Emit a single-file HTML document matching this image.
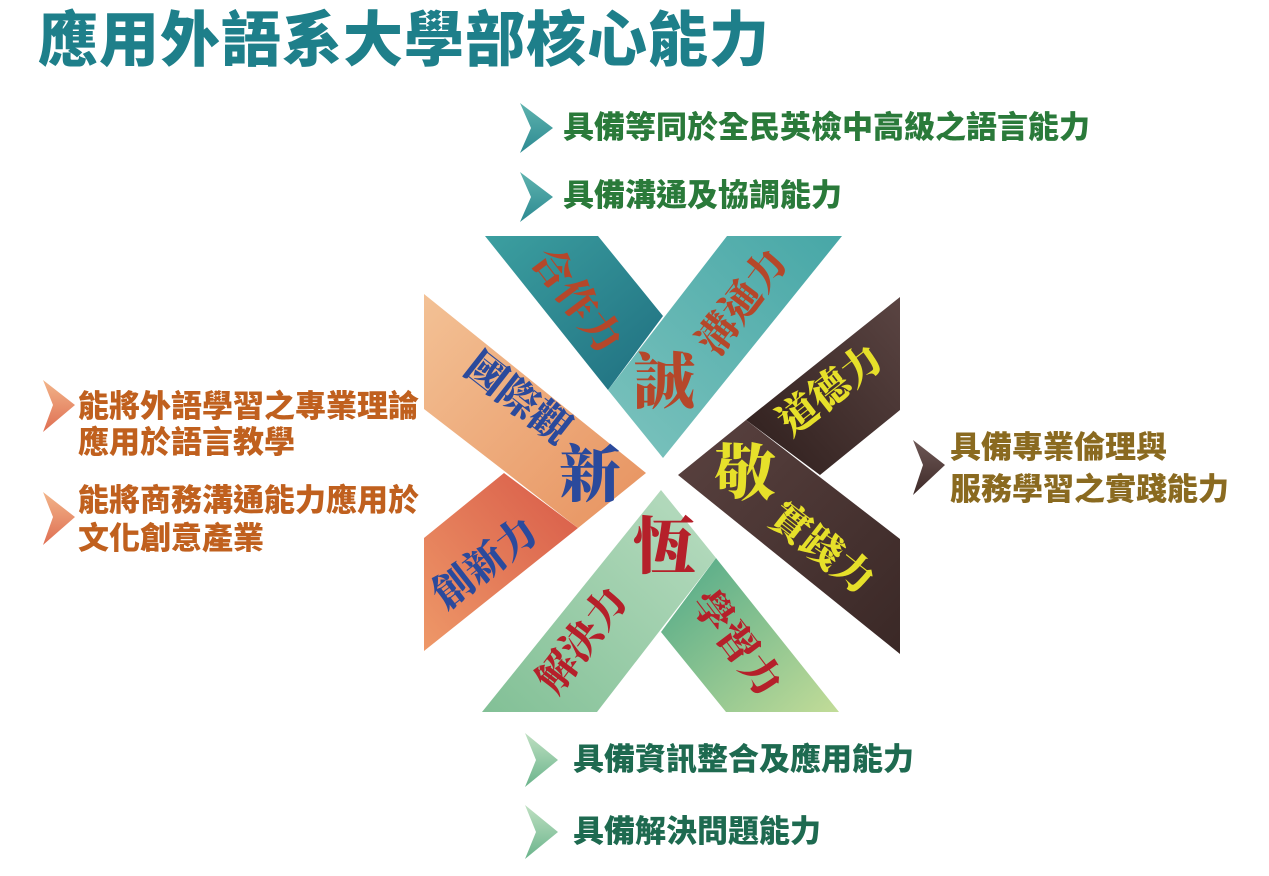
<!DOCTYPE html>
<html><head><meta charset="utf-8">
<style>
html,body{margin:0;padding:0;background:#fff;}
#wrap{position:relative;width:1269px;height:876px;overflow:hidden;background:#fff;}
.t{position:absolute;white-space:nowrap;font-family:"Liberation Sans","Noto Sans CJK TC",sans-serif;font-weight:900;font-size:31px;line-height:36px;}
</style></head>
<body>
<div id="wrap">
<svg width="1269" height="876" style="position:absolute;left:0;top:0">
<defs>
<linearGradient id="gDT" x1="0" y1="0" x2="1" y2="1"><stop offset="0" stop-color="#3c9fa0"/><stop offset="1" stop-color="#1f6f80"/></linearGradient>
<linearGradient id="gLT" x1="1" y1="0" x2="0" y2="1"><stop offset="0" stop-color="#47a7a7"/><stop offset="1" stop-color="#7cc3bd"/></linearGradient>
<linearGradient id="gPe" x1="0" y1="0" x2="1" y2="1"><stop offset="0" stop-color="#f3c195"/><stop offset="1" stop-color="#e7925f"/></linearGradient>
<linearGradient id="gRd" x1="1" y1="0" x2="0" y2="1"><stop offset="0" stop-color="#d85a48"/><stop offset="1" stop-color="#ee9868"/></linearGradient>
<linearGradient id="gBD" x1="1" y1="0" x2="0" y2="1"><stop offset="0" stop-color="#5a4442"/><stop offset="1" stop-color="#2e1e1c"/></linearGradient>
<linearGradient id="gBL" x1="0" y1="0" x2="1" y2="1"><stop offset="0" stop-color="#5a4240"/><stop offset="1" stop-color="#3a2826"/></linearGradient>
<linearGradient id="gGL" x1="1" y1="0" x2="0" y2="1"><stop offset="0" stop-color="#b8dcc0"/><stop offset="1" stop-color="#82c096"/></linearGradient>
<linearGradient id="gGD" x1="0" y1="0" x2="1" y2="1"><stop offset="0" stop-color="#4ea888"/><stop offset="1" stop-color="#c2dc98"/></linearGradient>
<linearGradient id="cT" x1="0" y1="0" x2="0" y2="1"><stop offset="0" stop-color="#5fb3ae"/><stop offset="1" stop-color="#2d8a92"/></linearGradient>
<linearGradient id="cO" x1="0" y1="0" x2="0" y2="1"><stop offset="0" stop-color="#f2b58a"/><stop offset="1" stop-color="#df6e52"/></linearGradient>
<linearGradient id="cB" x1="0" y1="0" x2="0" y2="1"><stop offset="0" stop-color="#6e5856"/><stop offset="1" stop-color="#3e2a28"/></linearGradient>
<linearGradient id="cG" x1="0" y1="0" x2="0" y2="1"><stop offset="0" stop-color="#bfe0c2"/><stop offset="1" stop-color="#6ab48c"/></linearGradient>
</defs>
<!-- top arm -->
<polygon points="485,236 598,236 663,316 608,390" fill="url(#gDT)"/>
<polygon points="727,236 842,236 663,458 608,390" fill="url(#gLT)"/>
<!-- left arm -->
<polygon points="424,651 424,538 504,473 578,528" fill="url(#gRd)"/>
<polygon points="424,409 424,294 646,473 578,528" fill="url(#gPe)"/>
<!-- right arm -->
<polygon points="900,297 900,410 820,475 746,420" fill="url(#gBD)"/>
<polygon points="900,539 900,654 678,475 746,420" fill="url(#gBL)"/>
<!-- bottom arm -->
<polygon points="839,712 726,712 661,632 716,558" fill="url(#gGD)"/>
<polygon points="597,712 482,712 661,490 716,558" fill="url(#gGL)"/>
<g font-family="'Liberation Serif','Noto Serif CJK TC','Noto Serif CJK SC',serif" font-weight="900" text-anchor="middle" dominant-baseline="central">
<text x="577" y="300" font-size="40" fill="#b5472a" transform="rotate(53 577 300)">合作力</text>
<text x="742" y="302" font-size="40" fill="#b5472a" transform="rotate(-53 742 302)">溝通力</text>
<text x="664" y="383" font-size="62" fill="#b5472a">誠</text>
<text x="518" y="398" font-size="40" fill="#2b4a9c" transform="rotate(38 518 398)">國際觀</text>
<text x="590" y="476" font-size="62" fill="#2b4a9c">新</text>
<text x="485" y="563" font-size="40" fill="#2b4a9c" transform="rotate(-38 485 563)">創新力</text>
<text x="830" y="390" font-size="40" fill="#e6e02a" transform="rotate(-38 830 390)">道德力</text>
<text x="745" y="475" font-size="62" fill="#e6e02a">敬</text>
<text x="822" y="548" font-size="40" fill="#e6e02a" transform="rotate(38 822 548)">實踐力</text>
<text x="664" y="548" font-size="62" fill="#b5202a">恆</text>
<text x="582" y="640" font-size="40" fill="#b5202a" transform="rotate(-53 582 640)">解決力</text>
<text x="737" y="643" font-size="40" fill="#b5202a" transform="rotate(53 737 643)">學習力</text>
</g>
<g>
<polygon points="520,103 553,128 520,153 531,128" fill="url(#cT)"/>
<polygon points="520,172 553,197 520,222 531,197" fill="url(#cT)"/>
<polygon points="43,380 75,405 43,432 53,405" fill="url(#cO)"/>
<polygon points="43,492 75,517 43,545 53,517" fill="url(#cO)"/>
<polygon points="913,440 945,465 913,495 923,465" fill="url(#cB)"/>
<polygon points="525,733 558,760 525,787 536,760" fill="url(#cG)"/>
<polygon points="525,805 558,832 525,859 536,832" fill="url(#cG)"/>
</g>
</svg>
<div class="t" style="left:38px;top:6px;font-size:60px;line-height:70px;color:#1e7f8a;letter-spacing:1px;">應用外語系大學部核心能力</div>
<div class="t" style="left:563px;top:110px;color:#2a7a3a;">具備等同於全民英檢中高級之語言能力</div>
<div class="t" style="left:563px;top:178px;color:#2a7a3a;">具備溝通及協調能力</div>
<div class="t" style="left:78px;top:389px;color:#c0601e;">能將外語學習之專業理論<br>應用於語言教學</div>
<div class="t" style="left:78px;top:482px;color:#c0601e;line-height:38px;">能將商務溝通能力應用於<br>文化創意產業</div>
<div class="t" style="left:950px;top:427px;color:#8a6a20;line-height:42px;">具備專業倫理與<br>服務學習之實踐能力</div>
<div class="t" style="left:573px;top:742px;color:#1e6a50;">具備資訊整合及應用能力</div>
<div class="t" style="left:573px;top:814px;color:#1e6a50;">具備解決問題能力</div>
</div>
</body></html>
